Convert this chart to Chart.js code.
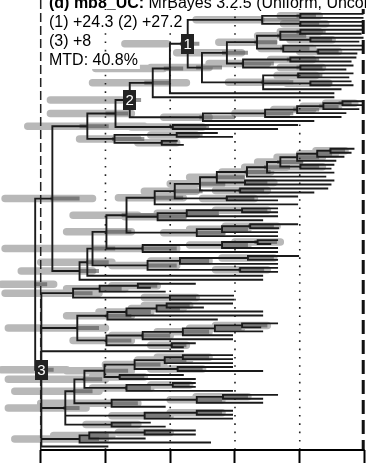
<!DOCTYPE html>
<html>
<head>
<meta charset="utf-8">
<script src="https://cdn.jsdelivr.net/npm/chart.js@4"></script>
<style>
  html, body { margin: 0; padding: 0; background: #fff; }
  canvas { display: block; }
</style>
</head>
<body>
<canvas id="tree" width="366" height="463"></canvas>
<script>
// Node ages in Ma (tips: end age). Internal node: (children)age[lightOld,lightYoung,darkOld,darkYoung]#label
const cladeA = `(
 (((((
   ((0.6,0.6)19.8[26,14,21,15],(0.6,0.6)19.8[25,12,20,14])31.6[52,32,32,20],
   (((
      ((0.6,1.2)19.8[26,14,21,12],(0.6,1.9)16.7[23,10,17,10])26[33,20,27,18],
      (0.6,(0.6,2.5)14.3[20,8,15,8])25.1[32,16,26,17]
     )33.2[45,28,34,27],
     ((2.8,4.3)22.9[29,16,24,14],(3.7,5.9)19.8[26,13,21,13])37.5[48,30,38,28]
    )42.5[58,38,44,36],
    ((3.7,5)20.5[27,15,21,13],(4.3,3.7)16.7[24,11,17,10],7.4)31.3[42,24,32,22]
   )50.2[66,48,52,44]
  )54.6[74,61,57,51]#1,
  9.6)60.1[83,62,62,56],
  9.6)65.4[84,55,68,60],
  (((((0.6,0.6)6.8[12,3,8,4],1.9)12.7[19,8,14,8],5.9)20.8[28,16,22,14],7.4)30.7[40,24,31,22],15.8)49.9[62,48,51,40]
 )72.5[97,75,74,69]#2,
 (20.8,27)59.2[72,50,60,48]
 )76.9[97,72,80,73],
 ((45.6,40.9)58[66,52,58,50],(58,56.1)62.6[70,58,63,58])77.2[88,70,78,68]
)85.6[104,68,88,79]`;

const cladeB = `(
 ((((
     ((((((((
        ((3.4,4.3)10.5[15,6,11,6],6.5)14.6[20,9,15,10],
        9)20.8[27,13,21,14],
        (9.6,10.5)19.8[25,13,20,14])26[33,20,27,19],
        9.6)30.1[37,24,31,23],
        12.1)36.3[44,29,37,29],
        (9.6,10.5)36.9[44,28,37,30])45.6[54,38,46,37],
        (11.5,15.8)38.4[46,30,39,31])50.8[60,44,51,43],
        (20.8,27)42.5[50,34,43,34])58.6[68,52,59,50],
        20.8)64.8[76,56,65,56],
     (((27,27)37.8[46,30,38,30],27)54.9[64,46,55,45],31.6)63.9[74,56,64,55],
     (((20.8,26.7)35.3[43,27,36,28],27)44[54,36,44,36],27)51.8[62,44,52,43]
    )73.5[90,70,75,64],
    (((27,29.1)33[40,26,34,27],27)44[54,36,44,36],27)68.5[80,58,69,58]
   )79.7[92,72,80,72],
   (((20.5,27)36[44,28,36,28],27)57[66,48,57,48],(27,27)38.4[46,30,39,31])67[78,58,67,58]
  )84[111,80,84,77],
  31.6)85.6[100,78,86,79],
 31.6
)88[106,84,88,82]`;

const cladeC = `(
 (((52.4,66.3)70[78,64,70,64],61.7)81.8[92,74,82,75],(40.6,40.6)60.1[68,52,60,52])90[111,82,90,84],
 (
  ((((40.9,49.9)61.1[68,54,61,54],31.6)64.2[72,56,64,57],31.6)73.5[82,66,74,66],45.6)79.4[92,72,80,72],
  (((((27,32.2)37.8[46,30,38,30],31.6)46.2[54,38,46,38],40.9)56.1[64,48,56,48],40.9)68.5[78,60,69,60],(52.4,56.1)59.5[66,55,60,55])79.7[90,72,80,72]
 )88.7[110,80,89,82],
 56.1,
 (
  ((
    ((((40.9,40.9)56.1[64,48,56,48],40.9)61.7[70,54,62,55],(40.9,31.6)57.7[66,50,58,50])71[80,62,71,63],(56.1,52.4)75.6[84,68,76,68])80.3[92,72,80,73],
    ((52.4,52.4)59.2[66,54,59,54],40.9)73.5[84,66,74,66]
   )86.5[110,80,87,81],
   (((27,31.6)43.7[52,36,44,36],31.6)51.8[60,44,52,44],61.7)78.1[100,70,78,70]
  )89.6[108,82,90,84],
  ((40.9,40.9)51.8[60,44,52,44],40.9)67.9[78,60,68,60],
  (66.3,61.7)78.1[86,70,78,72]
 )92.4[110,86,93,88],
 (((52.4,52.4)67.9[76,60,68,60],67.9)85[96,78,85,79],47.7)88[108,80,88,82],
 79.4
)99.8[112,92,100,96]#3`;

const crownAB = '96.4[111,84,97,88]';
const rootNode = '101.7[112,96,102,98]';

const tickAges = [0, 20, 40, 60, 80, 100];
const gridAges = [20, 40, 60, 80];
const leftBoundAge = 100;
const rightBoundAge = 0.4;

const titleParts = ['(d) mb8_UC:', ' MrBayes 3.2.5 (Uniform, Uncorrelated)'];
const statLines = ['(1) +24.3 (2) +27.2', '(3) +8', 'MTD: 40.8%'];

const FONT = '"Liberation Sans", Arial, Helvetica, sans-serif';

function parseNewick(src) {
    const str = src.replace(/\s+/g, '');
    let i = 0;
    const num = () => {
        const m = /^-?[\d.]+/.exec(str.slice(i));
        if (!m) throw new Error('Bad tree string near: ' + str.slice(i, i + 20));
        i += m[0].length;
        return parseFloat(m[0]);
    };
    const node = () => {
        if (str[i] !== '(') return { age: num(), children: [] };
        i++;
        const children = [node()];
        while (str[i] === ',') { i++; children.push(node()); }
        i++; // ')'
        const n = { age: num(), children: children, bars: null, label: null };
        if (str[i] === '[') {
            i++;
            n.bars = [num()];
            while (str[i] === ',') { i++; n.bars.push(num()); }
            i++;
        }
        if (str[i] === '#') { i++; n.label = String(num()); }
        return n;
    };
    return node();
}

const tree = parseNewick('((' + cladeA + ',' + cladeB + ')' + crownAB + ',' + cladeC + ')' + rootNode);

// tips top to bottom, internal node sits midway between first and last child
let tipCount = 0;
(function place(n) {
    if (!n.children.length) { n.y = tipCount++; return; }
    n.children.forEach(place);
    n.y = (n.children[0].y + n.children[n.children.length - 1].y) / 2;
})(tree);

const branchPts = [], lightPts = [], darkPts = [], labelNodes = [];
function seg(arr, x1, y1, x2, y2) {
    arr.push({ x: x1, y: y1 }, { x: x2, y: y2 }, { x: x2, y: null });
}
(function collect(n) {
    if (!n.children.length) return;
    const first = n.children[0], last = n.children[n.children.length - 1];
    seg(branchPts, n.age, first.y, n.age, last.y);
    n.children.forEach(c => seg(branchPts, n.age, c.y, c.age, c.y));
    if (n.bars) {
        seg(lightPts, n.bars[0], n.y, n.bars[1], n.y);
        seg(darkPts, n.bars[2], n.y, n.bars[3], n.y);
    }
    if (n.label) labelNodes.push(n);
    n.children.forEach(collect);
})(tree);

const yMin = -3.5;
const yMax = tipCount - 1 + 0.9;

const gridPts = [];
gridAges.forEach(a => seg(gridPts, a, yMin, a, yMax));

const lineDefaults = { pointRadius: 0, spanGaps: false, clip: false, fill: false, tension: 0 };

const overlay = {
    id: 'overlay',
    afterDraw(chart) {
        const ctx = chart.ctx;
        const xs = chart.scales.x, ys = chart.scales.y;
        ctx.save();
        ctx.textBaseline = 'alphabetic';
        ctx.textAlign = 'left';

        ctx.fillStyle = '#fff';
        ctx.fillRect(46, 0, 320, 9);
        ctx.fillStyle = '#000';
        ctx.font = 'bold 16px ' + FONT;
        ctx.fillText(titleParts[0], 49, 8);
        const bw = ctx.measureText(titleParts[0]).width;
        ctx.font = '16px ' + FONT;
        ctx.fillText(titleParts[1], 49 + bw, 8);

        statLines.forEach((t, k) => {
            const base = 27 + 19 * k;
            const tw = ctx.measureText(t).width;
            ctx.fillStyle = '#fff';
            ctx.fillRect(46, base - 13, tw + 5, 17);
            ctx.fillStyle = '#000';
            ctx.fillText(t, 49, base);
        });

        ctx.font = '15px ' + FONT;
        ctx.textAlign = 'center';
        ctx.textBaseline = 'middle';
        labelNodes.forEach(n => {
            const px = xs.getPixelForValue(n.age);
            const py = ys.getPixelForValue(n.y);
            ctx.fillStyle = '#222';
            ctx.fillRect(Math.round(px - 6.5), Math.round(py - 10), 13, 20);
            ctx.fillStyle = '#fff';
            ctx.fillText(n.label, px, py + 1);
        });
        ctx.restore();
    }
};

const chart = new Chart(document.getElementById('tree').getContext('2d'), {
    type: 'line',
    data: {
        datasets: [
            { ...lineDefaults, data: [{ x: leftBoundAge, y: yMax }, { x: 0, y: yMax }], borderColor: '#000', borderWidth: 2, order: 0 },
            { ...lineDefaults, data: [{ x: leftBoundAge, y: yMin }, { x: leftBoundAge, y: yMax }], borderColor: '#222', borderWidth: 1.5, borderDash: [9, 4], order: 0 },
            { ...lineDefaults, data: [{ x: rightBoundAge, y: yMin }, { x: rightBoundAge, y: yMax }], borderColor: '#111', borderWidth: 3, borderDash: [14, 6], order: 0 },
            { ...lineDefaults, data: branchPts, borderColor: '#1a1a1a', borderWidth: 1.9, borderCapStyle: 'square', borderJoinStyle: 'miter', order: 1 },
            { ...lineDefaults, data: gridPts, borderColor: '#222', borderWidth: 1.6, borderDash: [1.6, 6.7], order: 2 },
            { ...lineDefaults, data: darkPts, borderColor: 'rgba(80,80,80,0.6)', borderWidth: 4, borderCapStyle: 'butt', order: 3 },
            { ...lineDefaults, data: lightPts, borderColor: 'rgba(150,150,150,0.68)', borderWidth: 7.5, borderCapStyle: 'round', order: 4 }
        ]
    },
    options: {
        responsive: false,
        animation: false,
        events: [],
        layout: { padding: 0 },
        plugins: { legend: { display: false }, tooltip: { enabled: false }, title: { display: false } },
        scales: {
            x: {
                type: 'linear',
                reverse: true,
                min: -0.46,
                max: 112.57,
                afterBuildTicks: s => { s.ticks = tickAges.map(v => ({ value: v })); },
                ticks: { display: false },
                grid: { drawOnChartArea: false, drawTicks: true, tickLength: 13, tickWidth: 2, tickColor: '#000' },
                border: { display: false }
            },
            y: {
                type: 'linear',
                display: false,
                reverse: true,
                min: yMin,
                max: yMax
            }
        }
    },
    plugins: [overlay]
});
</script>
</body>
</html>
